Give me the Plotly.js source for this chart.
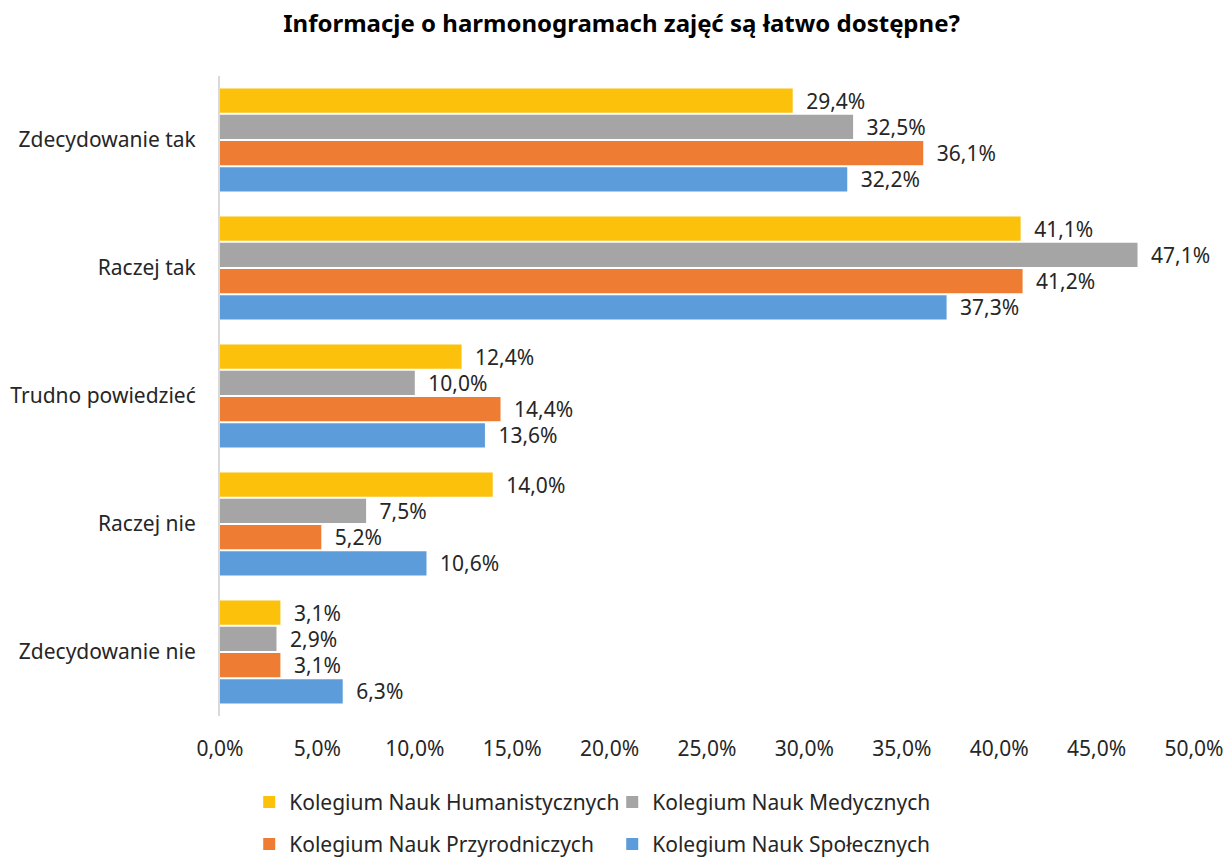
<!DOCTYPE html>
<html><head><meta charset="utf-8">
<script src="https://cdn.plot.ly/plotly-3.0.1.min.js"></script>
<style>body{margin:0;background:#fff}#c{width:1226px;height:860px}</style>
</head><body><div id="c"></div>
<script>
const categories = ["Zdecydowanie tak", "Raczej tak", "Trudno powiedzieć", "Raczej nie", "Zdecydowanie nie"];
const seriesNames = ["Kolegium Nauk Humanistycznych", "Kolegium Nauk Medycznych", "Kolegium Nauk Przyrodniczych", "Kolegium Nauk Społecznych"];
const humanistycznych = [29.4, 41.1, 12.4, 14.0, 3.1];
const medycznych = [32.5, 47.1, 10.0, 7.5, 2.9];
const przyrodniczych = [36.1, 41.2, 14.4, 5.2, 3.1];
const spolecznych = [32.2, 37.3, 13.6, 10.6, 6.3];
const xTicks = [0, 5, 10, 15, 20, 25, 30, 35, 40, 45, 50];
const xTickLabels = ["0,0%", "5,0%", "10,0%", "15,0%", "20,0%", "25,0%", "30,0%", "35,0%", "40,0%", "45,0%", "50,0%"];

const colors = ["#FCC10A", "#A5A5A5", "#EE7C32", "#5D9CDA"];
const values = [humanistycznych, medycznych, przyrodniczych, spolecznych];
const legends = ["legend", "legend", "legend2", "legend2"];
const FONT = "'Noto Sans', sans-serif";
const FS = 21;

const traces = values.map((v, i) => ({
  type: "bar", orientation: "h",
  name: seriesNames[i], x: v, y: categories,
  marker: {color: colors[i]},
  texttemplate: "\u2002%{x:.1f}%", textposition: "outside", constraintext: "none",
  textfont: {family: FONT, size: FS, color: "#262626"},
  cliponaxis: false, legend: legends[i], hoverinfo: "x+name"
}));

const legendBase = {orientation: "h", x: 0.03, xanchor: "left", yanchor: "top",
  xref: "paper", yref: "container",
  entrywidth: 318, entrywidthmode: "pixels", itemwidth: 30,
  font: {family: FONT, size: FS, color: "#262626"}, traceorder: "normal"};

const layout = {
  width: 1226, height: 860,
  margin: {l: 220, r: 32, t: 76, b: 144},
  paper_bgcolor: "#fff", plot_bgcolor: "#fff",
  separators: ",.",
  title: {text: "<b>Informacje o harmonogramach zajęć są łatwo dostępne?</b>", x: 0.507, xref: "container", y: 0.972, yanchor: "middle",
          font: {family: FONT, size: 24, color: "#000"}},
  barmode: "group", bargap: 0.18, bargroupgap: 0.08,
  xaxis: {range: [0, 50], tickvals: xTicks, ticktext: xTickLabels, automargin: false,
          showgrid: false, zeroline: false, showline: false, ticks: "",
          ticklabelstandoff: 18, ticklabeloverflow: "allow",
          tickfont: {family: FONT, size: FS, color: "#262626"}},
  yaxis: {autorange: "reversed", showgrid: false, zeroline: false, automargin: false,
          showline: true, linecolor: "#D9D9D9", linewidth: 2, ticks: "",
          ticklabelstandoff: 18,
          tickfont: {family: FONT, size: FS, color: "#262626"}},
  legend: Object.assign({}, legendBase, {y: 0.091}),
  legend2: Object.assign({}, legendBase, {y: 0.042}),
  showlegend: true
};

Plotly.newPlot("c", traces, layout, {displayModeBar: false, staticPlot: true});
</script>
</body></html>
